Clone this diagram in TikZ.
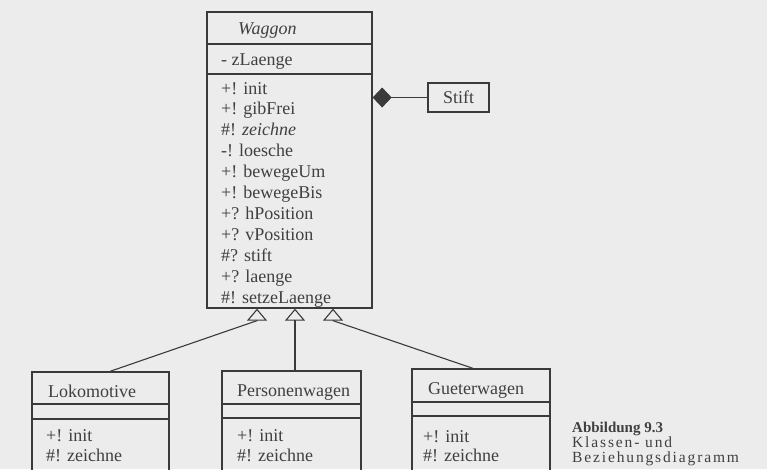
\documentclass[tikz,border=0pt]{standalone}
\usepackage{fontspec}
\setmainfont{Liberation Serif}
\usepackage{tikz}
\usepackage{xcolor}
\usetikzlibrary{
    arrows.meta,
    calc,
    positioning
}
\definecolor{pagegray}{HTML}{ECECEC}
\definecolor{inkgray}{HTML}{3A3A3A}
\definecolor{textgray}{HTML}{404040}

\begin{document}
\begin{tikzpicture}[x=1pt, y=-1pt,
        compart/.style={draw=inkgray, line width=1.3pt, inner sep=0pt, rectangle},
        umltext/.style={anchor=base west, inner sep=0pt, text=textgray, font=\fontsize{18}{20}\selectfont},
        captext/.style={anchor=base west, inner sep=0pt, text=textgray, text height=10pt, text depth=3pt,
            font=\fontsize{15.5}{15.5}\selectfont\addfontfeatures{LetterSpace=12}},
        inherit/.style={draw=inkgray, line width=1.1pt, -{Triangle[open, length=12pt, width=20pt]}},
        compose/.style={draw=inkgray, line width=1.1pt, -{Diamond[length=19pt, width=20pt]}}]
    \useasboundingbox (0,0) rectangle (767,469);
    \fill[pagegray] (0,0) rectangle (767,469);

    % Waggon
    \node[compart, minimum width=165pt, minimum height=32pt] (waggonName) at (289.5,28) {};
    \node[compart, minimum width=165pt, minimum height=30pt] (waggonAttr) at (289.5,59) {};
    \node[compart, minimum width=165pt, minimum height=234pt] (waggonOps) at (289.5,191) {};
    \node[umltext] (waggonTitle) at (238,34) {\textit{Waggon}};
    \node[umltext] (waggonLaenge) at (221,65) {- zLaenge};
    \foreach \op [count=\i] in {+! init, +! gibFrei, \#! \textit{zeichne}, -! loesche,
            +! bewegeUm, +! bewegeBis, +? hPosition, +? vPosition, \#? stift,
            +? laenge, \#! setzeLaenge}
        \node[umltext] (waggonOp\i) at (221,{94+20.9*(\i-1)}) {\op};

    % Stift
    \node[compart, minimum width=61pt, minimum height=29pt, text=textgray,
        font=\fontsize{18}{20}\selectfont] (stift) at (458.5,97.5) {Stift};
    \draw[compose] (stift.west) -- (waggonOps.east |- stift.west);

    % Lokomotive
    \node[compart, minimum width=137pt, minimum height=32pt] (lokoName) at (100.5,388) {};
    \node[compart, minimum width=137pt, minimum height=15pt] (lokoAttr) at (100.5,411.5) {};
    \node[compart, minimum width=137pt, minimum height=61pt] (lokoOps) at (100.5,449.5) {};
    \node[umltext] (lokoTitle) at (48,397) {Lokomotive};
    \node[umltext] (lokoInit) at (46,441) {+! init};
    \node[umltext] (lokoZeichne) at (46,461) {\#! zeichne};

    % Personenwagen
    \node[compart, minimum width=139pt, minimum height=33pt] (personName) at (291.5,387.5) {};
    \node[compart, minimum width=139pt, minimum height=14pt] (personAttr) at (291.5,411) {};
    \node[compart, minimum width=139pt, minimum height=62pt] (personOps) at (291.5,449) {};
    \node[umltext] (personTitle) at (237,396) {Personenwagen};
    \node[umltext] (personInit) at (237,441) {+! init};
    \node[umltext] (personZeichne) at (237,461) {\#! zeichne};

    % Gueterwagen
    \node[compart, minimum width=138pt, minimum height=33pt] (gueterName) at (481,385.5) {};
    \node[compart, minimum width=138pt, minimum height=14pt] (gueterAttr) at (481,409) {};
    \node[compart, minimum width=138pt, minimum height=64pt] (gueterOps) at (481,448) {};
    \node[umltext] (gueterTitle) at (428,394) {Gueterwagen};
    \node[umltext] (gueterInit) at (423,442) {+! init};
    \node[umltext] (gueterZeichne) at (423,461) {\#! zeichne};

    % Vererbung
    \coordinate (tipA) at ($(waggonOps.south)+(-32.5,0)$);
    \coordinate (tipB) at ($(waggonOps.south)+(5.5,0)$);
    \coordinate (tipC) at ($(waggonOps.south)+(43.5,0)$);
    \draw[inherit] ($(lokoName.north)+(9.5,0)$) -- ($(tipA)+(0,12)$) -- (tipA);
    \draw[inherit] (personName.north -| tipB) -- (tipB);
    \draw[inherit] ($(gueterName.north)+(-8,0)$) -- ($(tipC)+(0,12)$) -- (tipC);

    % Bildunterschrift
    \node[captext, font=\fontsize{15}{15}\selectfont\bfseries] (capNum) at (572,432) {Abbildung 9.3};
    \node[captext] (capLineA) at (572,447) {Klassen- und};
    \node[captext] (capLineB) at (572,462) {Beziehungsdiagramm};
\end{tikzpicture}
\end{document}
